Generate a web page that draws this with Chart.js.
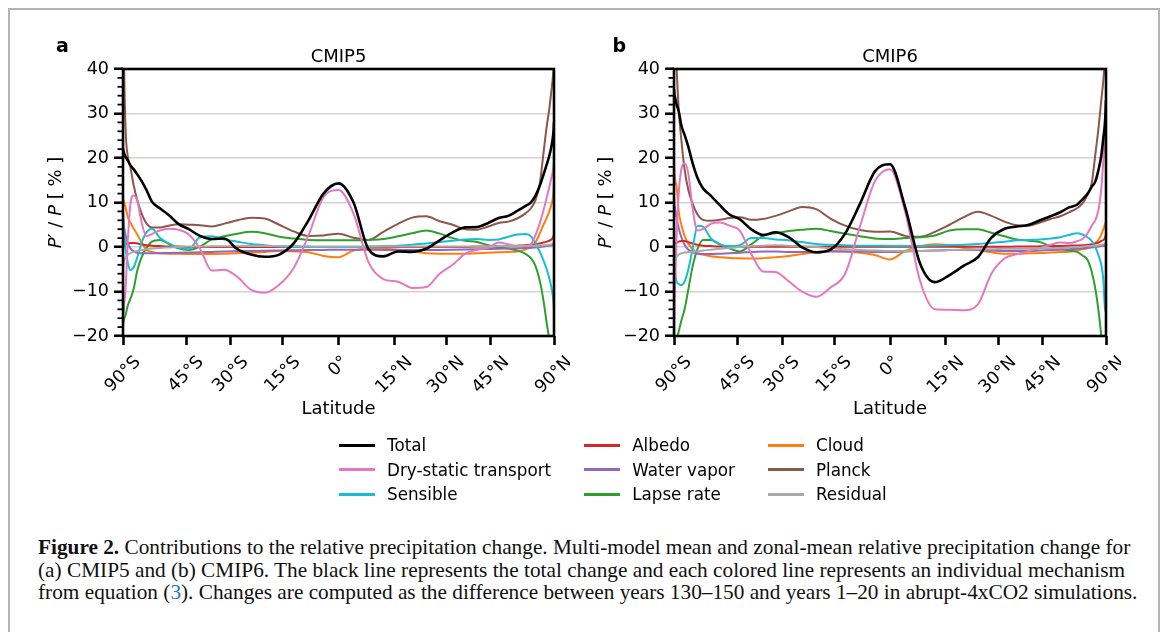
<!DOCTYPE html>
<html lang="en">
<head>
  <meta charset="UTF-8">
  <title>Figure 2 - relative precipitation change</title>
  <script src="https://cdn.jsdelivr.net/npm/chart.js"></script>
  <style>
    html, body { margin: 0; padding: 0; background: #fff; }
    body { width: 1169px; height: 632px; position: relative; overflow: hidden; font-family: 'DejaVu Sans', sans-serif; }
    #frame { position: absolute; left: 8px; top: 8px; width: 1152px; height: 660px; border: 2px solid #b4b4b4; box-sizing: border-box; }
    canvas { position: absolute; top: 20px; }
    #ca { left: 20px; }
    #cb { left: 571px; }
    #legend { position: absolute; left: 339px; top: 433px; display: flex; column-gap: 33px; font-size: 16.75px; color: #000; }
    .col { display: flex; flex-direction: column; }
    .item { height: 24.5px; display: flex; align-items: center; white-space: nowrap; }
    .swatch { width: 36px; height: 2.7px; margin-right: 12px; }
    #caption { position: absolute; left: 38px; top: 536px; font-family: 'Liberation Serif', serif; font-size: 18px; line-height: 22.5px; color: #111; }
    #caption div { white-space: nowrap; }
    .ref { color: #2b73b6; }
  </style>
</head>
<body>
  <div id="frame"></div>
  <canvas id="ca" width="550" height="420"></canvas>
  <canvas id="cb" width="550" height="420"></canvas>
  <div id="legend"></div>
  <div id="caption">
    <div id="cap1"><b>Figure 2.</b> Contributions to the relative precipitation change. Multi-model mean and zonal-mean relative precipitation change for</div>
    <div>(a) CMIP5 and (b) CMIP6. The black line represents the total change and each colored line represents an individual mechanism</div>
    <div>from equation (<span class="ref">3</span>). Changes are computed as the difference between years 130–150 and years 1–20 in abrupt-4xCO2 simulations.</div>
  </div>

  <script>
    // latitude grid (degrees) shared by every curve
    const lat = [-90,-87,-84,-81,-78,-75,-72,-69,-66,-63,-60,-56,-52,-48,-44,-40,-36,-32,-28,-24,-20,-16,-12,-8,-4,0,4,8,12,16,20,24,28,32,36,40,44,48,52,56,60,63,66,69,72,75,78,81,84,87,90];

    // x axis ticks
    const tickLats = [-90, -45, -30, -15, 0, 15, 30, 45, 90];
    const tickLabels = ['90°S', '45°S', '30°S', '15°S', '0°', '15°N', '30°N', '45°N', '90°N'];

    // CMIP5 (panel a), P'/P in %
    const cmip5Total  = [22.1,21.8,21.0,20.2,19.5,18.4,17.5,16.3,14.8,12.8,10.2, 8.7,7.2,5.2,4.0,2.5,1.8,1.9,-0.5,-1.7,-2.2,-1.7,0.8,6.0,12.0, 14.3, 10.0,-0.5,-2.1,-1.0,-1.1,-0.4,1.5,3.3,4.4,4.5,5.4,6.5,7.0,8.1, 9.2,9.9,11.5,13.7,16.2,18.5,20.5,22.5,24.5,26.5,28.0];
    const cmip5Dry    = [-16.5,-15.5,-13,-9,1,9.5,11.6,10.4,5.5,2.4,2.9, 3.7,4.1,3.9,2.8,-0.4,-5.3,-5.1,-6.7,-9.6,-10.3,-8.5,-4.7,2.6,11.2, 12.8, 7.5,-3.4,-7.2,-7.8,-9.2,-9.0,-6.0,-4.0,-1.5,-0.6,-0.2,1.0,0.6,0.1, 0.2,0.5,2.6,5.3,8.2,11,13.5,15.5,17,18.5,19.5];
    const cmip5Sens   = [6.5,5.5,3.0,-0.5,-3.5,-5.2,-4.6,-2.3,1.0,3.3,4.1, 2.1,0.8,-0.1,-0.5,2.2,2.4,1.7,1.2,0.7,0.4,0.1,0.0,0.0,0.0, 0.0, 0.0,0.1,0.2,0.3,0.5,0.8,1.1,1.4,1.7,1.8,1.6,1.7,2.3,2.8, 2.9,2.5,0.8,-1.0,-3.0,-5.0,-7.0,-9.0,-11,-13,-14.5];
    const cmip5Albedo = [-0.2,0.1,0.4,0.6,0.8,0.9,0.9,0.8,0.6,0.4,0.3, 0.2,0.1,0.1,0,0,0,0,0,0,0,0,0,0,0, 0, 0,0,0,0,0,0,0,0,0,0.1,0.1,0.2,0.2,0.3, 0.4,0.5,0.6,0.8,1.0,1.2,1.4,1.7,2.1,2.6,3.0];
    const cmip5Wv     = [8.0,6.5,4.5,2.5,0.8,-0.3,-1.0,-1.3,-1.4,-1.4,-1.4, -1.4,-1.35,-1.3,-1.25,-1.2,-1.1,-1.0,-0.95,-0.9,-0.85,-0.8,-0.75,-0.7,-0.65, -0.6, -0.6,-0.6,-0.65,-0.7,-0.7,-0.7,-0.65,-0.6,-0.55,-0.5,-0.45,-0.4,-0.35,-0.3, -0.25,-0.2,-0.1,0,0.1,0.2,0.3,0.4,0.5,0.6,0.7];
    const cmip5Lapse  = [-17.3,-17.0,-16.2,-15.2,-13.2,-11.7,-9.5,-5.3,-2.3,-0.2,1.2, 1.6,0.7,-0.3,-0.7,0.1,1.7,2.4,3.0,3.4,3.1,2.3,1.9,1.6,1.5, 1.5, 1.5,1.6,1.8,2.4,3.1,3.7,3.0,2.0,1.4,1.1,0.4,-0.1,-0.35,-0.8, -1.5,-2.4,-4.2,-7.5,-12,-17,-21,-25,-29,-32,-35];
    const cmip5Cloud  = [10.9,10.5,10.0,8.8,6.8,5.5,4.2,2.8,1.0,-0.6,-1.1, -1.4,-1.5,-1.5,-1.6,-1.6,-1.6,-1.5,-1.4,-1.3,-1.1,-0.9,-1.0,-1.2,-2.0, -2.3, -0.8,-0.4,-0.4,-0.6,-1.0,-1.4,-1.5,-1.5,-1.5,-1.4,-1.3,-1.2,-1.1,-1.0, -0.6,0.0,1.0,3.0,5.0,6.5,8.0,9.5,11.0,13.0,15.0];
    const cmip5Planck = [80,60,40,26,20.5,18,14,10.5,7.5,5.3,4.4, 4.4,4.8,5.1,5.0,4.9,4.6,5.25,6.0,6.6,6.4,5.0,3.5,2.5,2.6, 3.0, 2.1,1.6,3.4,5.2,6.6,6.9,5.8,5.0,4.0,3.9,4.6,5.4,5.7,6.4, 7.5,8.6,10.5,14,21,27,31,35,38,41,44];
    const cmip5Resid  = [-5.0,-4.0,-3.0,-2.3,-1.8,-1.4,-1.1,-0.9,-0.7,-0.5,-0.35, -0.2,-0.1,0,0.1,0.1,0.15,0.15,0.2,0.2,0.2,0.2,0.2,0.15,0.1, 0.1, 0.1,0.1,0.1,0.1,0.1,0.1,0.1,0.1,0.1,0.15,0.15,0.2,0.2,0.2, 0.25,0.3,0.3,0.35,0.4,0.45,0.5,0.6,0.7,0.85,1.0];

    // CMIP6 (panel b)
    const cmip6Total  = [35.5,34.5,33.5,32,30.5,27.3,25.2,22.5,18.8,15.5,13.2, 11.5,9.4,7.3,6.2,4.0,2.7,3.3,2.2,-0.1,-1.2,-0.6,3.0,9.7,17.0, 18.6, 9.0,-3.7,-7.9,-6.3,-4.2,-2.3,2.1,4.1,4.6,5.0,6.0,6.9,7.8,8.9, 9.5,10.7,11.9,13.5,14.8,17.5,20.5,24.5,27.5,31.0,33.0];
    const cmip6Dry    = [-30,-18,-8,3,12,17.5,18.8,16.5,8.5,3.7,4.0, 5.2,5.5,4.8,3.6,-1.5,-5.5,-5.6,-7.7,-10.0,-11.2,-9.1,-6.0,4.6,14.8, 17.5, 8.0,-7.6,-14.0,-14.1,-14.2,-12.9,-6.0,-2.6,-1.6,-0.9,-0.2,0.5,1.0,0.9, 1.3,1.8,3.0,4.8,6.1,8.5,13,19.5,25,30,33];
    const cmip6Sens   = [0,-3,-6,-7.8,-8.3,-8.6,-7.8,-5.0,-0.3,4.8,4.6, 1.9,0.6,0.2,0.4,2.0,2.0,1.7,1.5,1.1,0.7,0.5,0.4,0.3,0.3, 0.25, 0.2,0.2,0.3,0.4,0.5,0.7,0.9,1.2,1.5,1.6,1.7,1.9,2.2,2.7, 3.1,2.8,2.2,1.4,-0.1,-2.0,-4.0,-7.5,-13.5,-14.5,-14.5];
    const cmip6Albedo = [0.4,0.6,0.8,1.0,1.2,1.35,1.35,1.1,0.8,0.5,0.3, 0.2,0.1,0.1,0.05,0.05,0.05,0.05,0.05,0.05,0.05,0.05,0.05,0.05,0.05, 0.05, 0.05,0.05,0.05,0.05,0.05,0.05,0.05,0.05,0.1,0.1,0.15,0.2,0.25,0.3, 0.35,0.4,0.5,0.6,0.8,1.0,1.3,1.6,2.0,2.5,3.0];
    const cmip6Wv     = [11,10,8.5,6.5,4.2,2.2,0.5,-0.6,-1.2,-1.5,-1.6, -1.6,-1.5,-1.4,-1.3,-1.1,-1.0,-1.0,-1.1,-1.1,-1.1,-1.0,-1.0,-1.0,-1.1, -1.1, -1.0,-0.9,-0.8,-0.7,-0.7,-0.7,-0.8,-0.9,-0.9,-0.9,-0.8,-0.7,-0.6,-0.5, -0.4,-0.3,-0.2,-0.1,0,0.1,0.2,0.25,0.3,0.4,0.5];
    const cmip6Lapse  = [-30,-27,-24,-21,-19,-16.5,-14,-9.5,-4.3,-0.4,1.6, 1.6,0.6,-0.3,-1.0,0.6,2.5,3.1,3.6,3.9,4.1,3.6,3.0,2.4,1.9, 1.8, 2.0,2.2,2.6,3.7,4.0,4.0,3.2,2.4,1.7,1.4,1.1,0.1,-0.4,-0.8, -1.1,-1.9,-2.8,-5.5,-9.5,-14.5,-20,-25,-30,-34,-38];
    const cmip6Cloud  = [19,17,15,13.5,8,5.0,2.5,0.7,-0.5,-1.4,-1.7, -2.1,-2.3,-2.45,-2.55,-2.6,-2.5,-2.3,-2.0,-1.6,-1.2,-0.9,-1.0,-1.3,-1.8, -2.8, -0.9,0.2,0.6,0.4,-0.2,-0.7,-1.2,-1.5,-1.5,-1.4,-1.35,-1.25,-1.15,-1.05, -0.8,-0.5,-0.3,0.2,0.9,1.7,2.8,4.0,5.0,5.5,5.8];
    const cmip6Planck = [90,70,50,40,31,24,17.5,12.8,9.7,7.3,6.1, 5.9,6.1,6.5,6.7,6.1,6.3,7.0,8.0,9.0,8.5,6.4,4.8,3.8,3.4, 3.5, 2.5,2.3,3.4,5.0,6.7,7.9,7.0,5.7,4.9,4.8,5.5,6.3,6.9,7.8, 8.7,9.8,11.6,14.25,21,27,33,37.5,42,47,52];
    const cmip6Resid  = [-6,-4.5,-3,-2.2,-1.7,-1.4,-1.25,-1.15,-1.05,-1.0,-0.8, -0.6,-0.4,-0.2,0,0.2,0.3,0.4,0.3,0.1,0,-0.3,-0.5,-0.7,-0.8, -0.9, -0.9,-0.9,-0.8,-0.7,-0.6,-0.5,-0.5,-0.4,-0.4,-0.4,-0.3,-0.3,-0.2,-0.1, 0,0.1,0.2,0.25,0.3,0.4,0.5,0.6,0.7,0.85,1.0];

    // mechanism names and colours (matplotlib tab10)
    const names  = { total: 'Total', dry: 'Dry-static transport', sens: 'Sensible', albedo: 'Albedo', wv: 'Water vapor', lapse: 'Lapse rate', cloud: 'Cloud', planck: 'Planck', resid: 'Residual' };
    const colors = { total: '#000000', dry: '#e377c2', sens: '#17becf', albedo: '#d62728', wv: '#9467bd', lapse: '#2ca02c', cloud: '#ff7f0e', planck: '#8c564b', resid: '#a9a9a9' };
    // first in list is drawn on top
    const drawOrder = ['total', 'resid', 'dry', 'sens', 'albedo', 'wv', 'lapse', 'cloud', 'planck'];
    const legendCols = [['total', 'dry', 'sens'], ['albedo', 'wv', 'lapse'], ['cloud', 'planck', 'resid']];

    const cmip5 = { total: cmip5Total, dry: cmip5Dry, sens: cmip5Sens, albedo: cmip5Albedo, wv: cmip5Wv, lapse: cmip5Lapse, cloud: cmip5Cloud, planck: cmip5Planck, resid: cmip5Resid };
    const cmip6 = { total: cmip6Total, dry: cmip6Dry, sens: cmip6Sens, albedo: cmip6Albedo, wv: cmip6Wv, lapse: cmip6Lapse, cloud: cmip6Cloud, planck: cmip6Planck, resid: cmip6Resid };

    const rad = d => d * Math.PI / 180;
    const FONT = '"DejaVu Sans"';

    // letters, titles, rotated latitude labels, spines, minor ticks
    const decor = {
      id: 'decor',
      afterDraw(chart, args, o) {
        const ctx = chart.ctx, a = chart.chartArea;
        const xs = chart.scales.x, ys = chart.scales.y;
        ctx.save();
        ctx.strokeStyle = '#000';
        ctx.fillStyle = '#000';

        // minor y ticks every 2
        ctx.lineWidth = 1.8;
        for (let v = -20; v <= 40; v += 2) {
          if (v % 10 === 0) continue;
          const y = ys.getPixelForValue(v);
          ctx.beginPath(); ctx.moveTo(a.left - 5.5, y); ctx.lineTo(a.left, y); ctx.stroke();
        }

        // frame
        ctx.lineWidth = 2.6;
        ctx.strokeRect(a.left, a.top, a.right - a.left, a.bottom - a.top);

        // latitude labels, rotated 45deg and centred under the tick
        ctx.font = '17.5px ' + FONT;
        ctx.textAlign = 'center';
        ctx.textBaseline = 'middle';
        tickLats.forEach((l, i) => {
          const x = xs.getPixelForValue(Math.sin(rad(l)));
          const w = ctx.measureText(tickLabels[i]).width;
          const yc = a.bottom + 19 + (w + 12.5) * Math.SQRT1_2 / 2;
          ctx.save();
          ctx.translate(x, yc);
          ctx.rotate(-Math.PI / 4);
          ctx.fillText(tickLabels[i], 0, 0);
          ctx.restore();
        });

        // x title
        ctx.font = '18px ' + FONT;
        ctx.textBaseline = 'alphabetic';
        ctx.fillText('Latitude', (a.left + a.right) / 2, a.bottom + 78);

        // panel title
        ctx.fillText(o.title, (a.left + a.right) / 2, a.top - 7.5);

        // panel letter
        ctx.font = 'bold 19px ' + FONT;
        ctx.textAlign = 'left';
        ctx.fillText(o.letter, o.letterX, 32);

        // y title: P' / P [ % ] with italic P
        const parts = [['P', 'italic '], ['\u2032 / ', ''], ['P', 'italic '], [' [ % ]', '']];
        let total = 0;
        parts.forEach(p => { ctx.font = p[1] + '18px ' + FONT; p.push(ctx.measureText(p[0]).width); total += p[2]; });
        ctx.save();
        ctx.translate(o.yTitleX, (a.top + a.bottom) / 2);
        ctx.rotate(-Math.PI / 2);
        ctx.textBaseline = 'middle';
        let cx = -total / 2;
        parts.forEach(p => { ctx.font = p[1] + '18px ' + FONT; ctx.fillText(p[0], cx, 0); cx += p[2]; });
        ctx.restore();

        ctx.restore();
      }
    };

    function makeChart(id, series, o) {
      const datasets = drawOrder.map(k => ({
        label: names[k],
        data: lat.map((l, i) => ({ x: Math.sin(rad(l)), y: series[k][i] })),
        borderColor: colors[k],
        borderWidth: k === 'total' ? 2.6 : 2,
        pointRadius: 0,
        fill: false,
        cubicInterpolationMode: 'monotone'
      }));
      return new Chart(document.getElementById(id), {
        type: 'line',
        data: { datasets },
        options: {
          responsive: false,
          animation: false,
          layout: { padding: { top: 49, right: o.padRight, left: 0, bottom: 0 } },
          plugins: {
            legend: { display: false },
            tooltip: { enabled: false },
            decor: o
          },
          scales: {
            x: {
              type: 'linear', min: -1, max: 1,
              afterBuildTicks: s => { s.ticks = tickLats.map(l => ({ value: Math.sin(rad(l)) })); },
              afterFit: s => { s.height = 104; },
              ticks: { display: false },
              grid: { drawOnChartArea: false, drawTicks: true, tickLength: 9, tickColor: '#000', tickWidth: 2.6 },
              border: { display: false }
            },
            y: {
              min: -20, max: 40,
              afterFit: s => { s.width = 103; },
              ticks: {
                stepSize: 10, padding: 5, color: '#000',
                font: { family: 'DejaVu Sans', size: 17.5 },
                callback: v => String(v).replace('-', '\u2212')
              },
              grid: { color: '#d3d3d3', lineWidth: 1.5, tickLength: 9, tickColor: '#000', tickWidth: 2.6 },
              border: { display: false }
            }
          }
        },
        plugins: [decor]
      });
    }

    makeChart('ca', cmip5, { title: 'CMIP5', letter: 'a', letterX: 36, yTitleX: 36, padRight: 16 });
    makeChart('cb', cmip6, { title: 'CMIP6', letter: 'b', letterX: 41.5, yTitleX: 35, padRight: 15 });

    // shared legend, filled column by column
    const legend = document.getElementById('legend');
    legendCols.forEach(col => {
      const c = document.createElement('div');
      c.className = 'col';
      col.forEach(k => {
        const it = document.createElement('div');
        it.className = 'item';
        it.innerHTML = '<span class="swatch" style="background:' + colors[k] + '"></span>' + names[k];
        c.appendChild(it);
      });
      legend.appendChild(c);
    });

    // fit caption width to the reference line length
    const cap1 = document.getElementById('cap1');
    const w = cap1.getBoundingClientRect().width;
    const fs = 18 * 1100 / w;
    document.getElementById('caption').style.fontSize = fs.toFixed(2) + 'px';
  </script>
</body>
</html>
